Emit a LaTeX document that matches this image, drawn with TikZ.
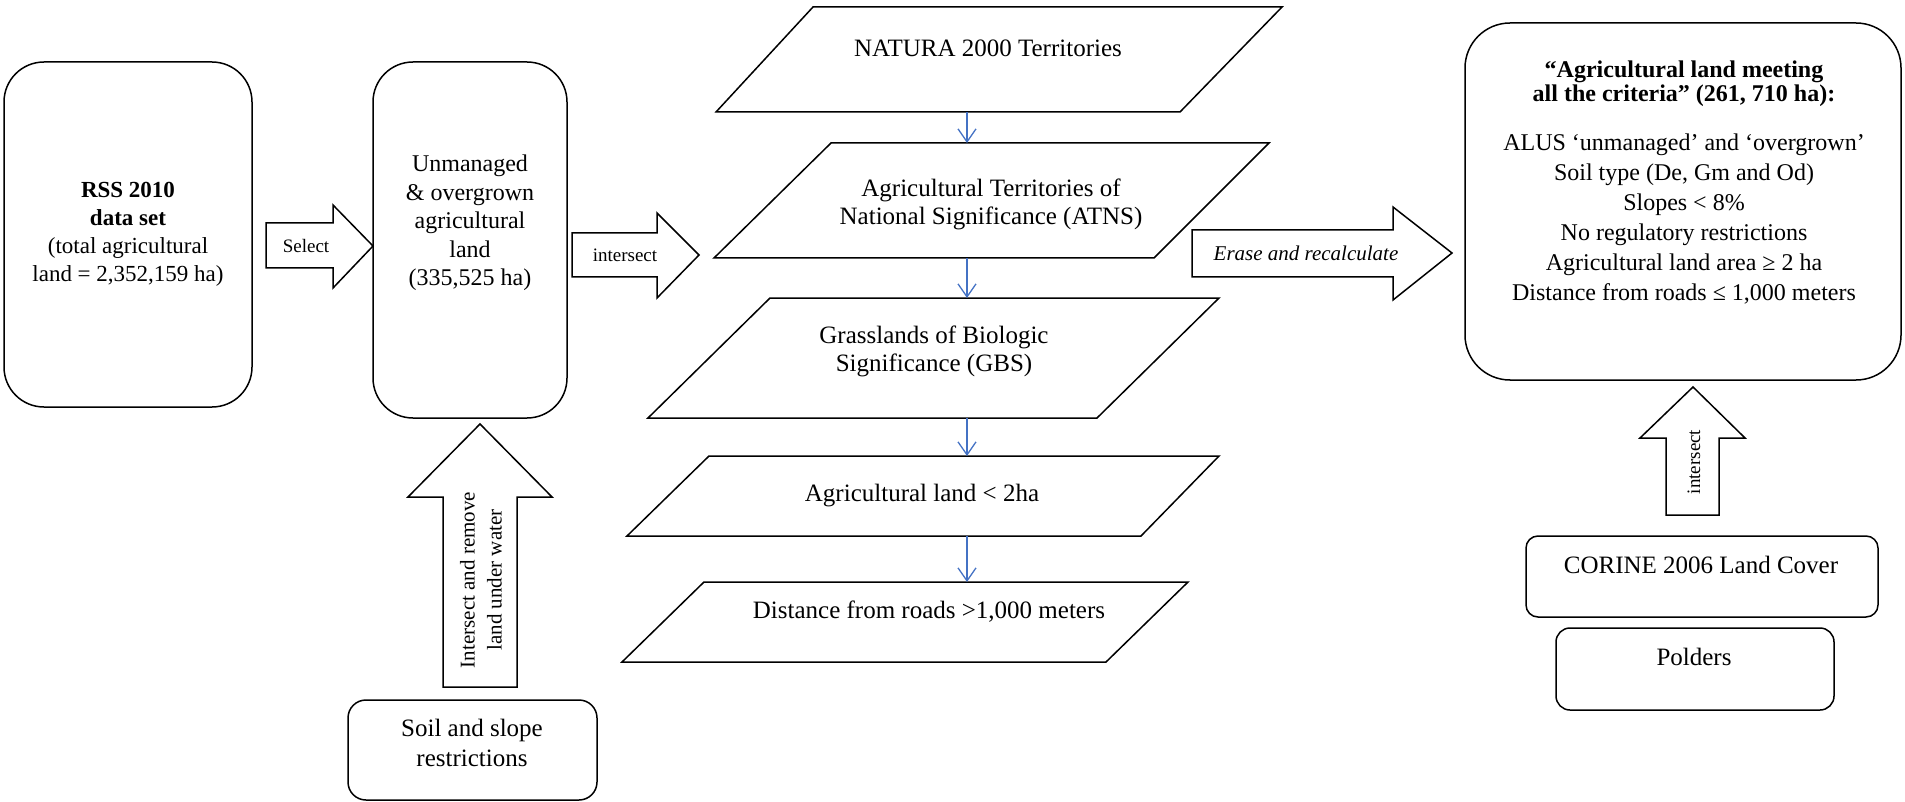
\documentclass[tikz,border=0pt]{standalone}
\usepackage{fontspec}
\setmainfont{Liberation Serif}
\usetikzlibrary{arrows.meta}
\definecolor{arrowblue}{RGB}{68,114,196}
\begin{document}
\begin{tikzpicture}[x=1pt,y=-1pt,
  roundbox/.style={draw,line width=1.5pt,inner sep=0pt},
  blockarrow/.style={draw,line width=1.5pt,fill=white,line join=miter},
  para/.style={draw,line width=1.5pt,line join=miter},
  lbl/.style={align=center,font=\fontsize{24}{29}\selectfont,inner sep=0pt},
  small/.style={align=center,font=\fontsize{19}{22}\selectfont,inner sep=0pt},
  bluearrow/.style={draw=arrowblue,line width=1.3pt,-{Straight Barb[length=13pt,width=18pt,line width=1.3pt]}}]
\useasboundingbox (0,0) rectangle (1905,802);

% left rounded boxes
\node[roundbox,rounded corners=40pt,minimum width=248pt,minimum height=345pt] (rss) at (128,234.5) {};
\node[lbl,font=\fontsize{23}{28}\selectfont] (rsstxt) at (rss) {\textbf{RSS 2010}\\\textbf{data set}\\(total agricultural\\land = 2,352,159 ha)};

\node[roundbox,rounded corners=40pt,minimum width=194pt,minimum height=356pt] (unm) at (470,240) {};
\node[lbl,font=\fontsize{24}{28.5}\selectfont] (unmtxt) at (470,223) {Unmanaged\\\& overgrown\\agricultural\\land\\(335,525 ha)};

\node[roundbox,rounded corners=18pt,minimum width=249pt,minimum height=100pt] (soil) at (472.5,750) {};
\node[lbl,font=\fontsize{25}{30}\selectfont] (soiltxt) at (472,743) {Soil and slope\\restrictions};

% block arrows
\draw[blockarrow] (266,223) -- (333,223) -- (333,205) -- (373,246) -- (333,288) -- (333,268) -- (266,268) -- cycle;
\node[small] (selecttxt) at (306,246) {Select};

\draw[blockarrow] (572,233) -- (657,233) -- (657,213) -- (699,255) -- (657,298) -- (657,277) -- (572,277) -- cycle;
\node[small] (intertxt) at (625,255) {intersect};

\draw[blockarrow] (443,687) -- (443,497) -- (408,497) -- (480,424) -- (552,497) -- (517,497) -- (517,687) -- cycle;
\node[lbl,font=\fontsize{21}{27}\selectfont,rotate=90] (uptxt) at (481,580) {Intersect and remove\\land under water};

\draw[blockarrow] (1192,230) -- (1393,230) -- (1393,207) -- (1452,253) -- (1393,300) -- (1393,277) -- (1192,277) -- cycle;
\node[small,font=\fontsize{21}{24}\selectfont\itshape] (erasetxt) at (1306,253) {Erase and recalculate};

\draw[blockarrow] (1666,515) -- (1666,438) -- (1640,438) -- (1693,387) -- (1745,438) -- (1719,438) -- (1719,515) -- cycle;
\node[small,rotate=90] (rinttxt) at (1694,462) {intersect};

% parallelograms
\draw[para] (813,7) -- (1282,7) -- (1180,112) -- (716,112) -- cycle;
\node[lbl,font=\fontsize{25}{30}\selectfont] (p1) at (988,48) {NATURA 2000 Territories};
\draw[para] (831,143) -- (1269,143) -- (1154,258) -- (714,258) -- cycle;
\node[lbl,font=\fontsize{25}{28}\selectfont] (p2) at (991,204) {Agricultural Territories of\\National Significance (ATNS)};
\draw[para] (770,298) -- (1219,298) -- (1097,418) -- (648,418) -- cycle;
\node[lbl,font=\fontsize{25}{28}\selectfont] (p3) at (934,351) {Grasslands of Biologic\\Significance (GBS)};
\draw[para] (709,456) -- (1219,456) -- (1141,536) -- (627,536) -- cycle;
\node[lbl,font=\fontsize{25}{30}\selectfont] (p4) at (922,496) {Agricultural land < 2ha};
\draw[para] (704,582) -- (1188,582) -- (1106,662) -- (622,662) -- cycle;
\node[lbl,font=\fontsize{25}{30}\selectfont] (p5) at (929,612) {Distance from roads >1,000 meters};

\coordinate (p1b) at (967,112);
\coordinate (p2t) at (967,143);
\coordinate (p2b) at (967,258);
\coordinate (p3t) at (967,298);
\coordinate (p3b) at (967,418);
\coordinate (p4t) at (967,456);
\coordinate (p4b) at (967,536);
\coordinate (p5t) at (967,582);
\draw[bluearrow] (p1b) -- (p2t);
\draw[bluearrow] (p2b) -- (p3t);
\draw[bluearrow] (p3b) -- (p4t);
\draw[bluearrow] (p4b) -- (p5t);

% right side
\node[roundbox,rounded corners=45pt,minimum width=436pt,minimum height=357pt] (res) at (1683,201.5) {};
\node[lbl,font=\fontsize{24}{24}\selectfont\bfseries] (restitle) at (1684,84) {“Agricultural land meeting\\all the criteria” (261, 710 ha):};
\node[lbl,font=\fontsize{24}{30}\selectfont] (resbody) at (1684,219) {ALUS ‘unmanaged’ and ‘overgrown’\\Soil type (De, Gm and Od)\\Slopes < 8\%\\No regulatory restrictions\\Agricultural land area ≥ 2 ha\\Distance from roads ≤ 1,000 meters};

\node[roundbox,rounded corners=12pt,minimum width=352pt,minimum height=81pt] (corine) at (1702,576.5) {};
\node[lbl,font=\fontsize{25}{30}\selectfont] (corinetxt) at (1701,565) {CORINE 2006 Land Cover};
\node[roundbox,rounded corners=14pt,minimum width=278pt,minimum height=82pt] (polders) at (1695,669) {};
\node[lbl,font=\fontsize{25}{30}\selectfont] (polderstxt) at (1694,657) {Polders};
\end{tikzpicture}
\end{document}
